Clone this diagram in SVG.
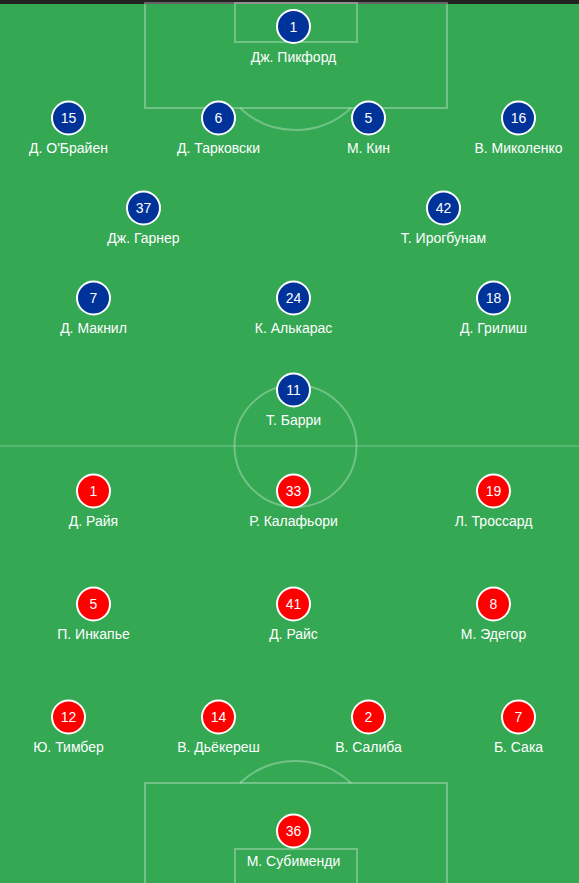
<svg xmlns="http://www.w3.org/2000/svg" width="579" height="883" viewBox="0 0 579 883">
<style>
.ln{fill:none;stroke:rgba(255,255,255,0.3);stroke-width:2}
.hl{fill:none;stroke:rgba(255,255,255,0.35);stroke-width:1}
.b{fill:#003399;stroke:#fff;stroke-width:2}
.r{fill:#ff0000;stroke:#fff;stroke-width:2}
.n{fill:#fff;font-family:"Liberation Sans",Arial,sans-serif;font-size:14px;text-anchor:middle}
.t{fill:#fff;font-family:"Liberation Sans",Arial,sans-serif;font-size:14px;text-anchor:middle}
</style>
<rect x="0" y="0" width="579" height="883" fill="#34a853"/>
<rect x="0" y="0" width="579" height="4" fill="#222"/>
<g id="pitch">
<rect class="ln" x="145" y="3" width="302" height="105"/>
<rect class="ln" x="235" y="3" width="122" height="39"/>
<path class="ln" d="M240,108 A81,81 0 0 0 351,108"/>
<line class="hl" x1="0" y1="446" x2="579" y2="446"/>
<circle class="ln" cx="295.5" cy="446" r="61"/>
<rect class="ln" x="145" y="783" width="302" height="105"/>
<rect class="ln" x="235" y="849" width="122" height="40"/>
<path class="ln" d="M240,783 A81,81 0 0 1 351,783"/>
</g>
<g id="connectors"></g>
<g id="h1"><circle class="b" cx="293.5" cy="26.5" r="16.5"/><text class="n" x="293.5" y="31.5">1</text><text class="t" x="293.5" y="62">Дж. Пикфорд</text></g>
<g id="h15"><circle class="b" cx="68.5" cy="118" r="16.5"/><text class="n" x="68.5" y="123">15</text><text class="t" x="68.5" y="153">Д. О'Брайен</text></g>
<g id="h6"><circle class="b" cx="218.5" cy="118" r="16.5"/><text class="n" x="218.5" y="123">6</text><text class="t" x="218.5" y="153">Д. Тарковски</text></g>
<g id="h5"><circle class="b" cx="368.5" cy="118" r="16.5"/><text class="n" x="368.5" y="123">5</text><text class="t" x="368.5" y="153">М. Кин</text></g>
<g id="h16"><circle class="b" cx="518.5" cy="118" r="16.5"/><text class="n" x="518.5" y="123">16</text><text class="t" x="518.5" y="153">В. Миколенко</text></g>
<g id="h37"><circle class="b" cx="143.5" cy="208" r="16.5"/><text class="n" x="143.5" y="213">37</text><text class="t" x="143.5" y="243">Дж. Гарнер</text></g>
<g id="h42"><circle class="b" cx="443.5" cy="208" r="16.5"/><text class="n" x="443.5" y="213">42</text><text class="t" x="443.5" y="243">Т. Ирогбунам</text></g>
<g id="h7"><circle class="b" cx="93.5" cy="298" r="16.5"/><text class="n" x="93.5" y="303">7</text><text class="t" x="93.5" y="333">Д. Макнил</text></g>
<g id="h24"><circle class="b" cx="293.5" cy="298" r="16.5"/><text class="n" x="293.5" y="303">24</text><text class="t" x="293.5" y="333">К. Алькарас</text></g>
<g id="h18"><circle class="b" cx="493.5" cy="298" r="16.5"/><text class="n" x="493.5" y="303">18</text><text class="t" x="493.5" y="333">Д. Грилиш</text></g>
<g id="h11"><circle class="b" cx="293.5" cy="390" r="16.5"/><text class="n" x="293.5" y="395">11</text><text class="t" x="293.5" y="425">Т. Барри</text></g>
<g id="a1"><circle class="r" cx="93.5" cy="491" r="16.5"/><text class="n" x="93.5" y="496">1</text><text class="t" x="93.5" y="526">Д. Райя</text></g>
<g id="a33"><circle class="r" cx="293.5" cy="491" r="16.5"/><text class="n" x="293.5" y="496">33</text><text class="t" x="293.5" y="526">Р. Калафьори</text></g>
<g id="a19"><circle class="r" cx="493.5" cy="491" r="16.5"/><text class="n" x="493.5" y="496">19</text><text class="t" x="493.5" y="526">Л. Троссард</text></g>
<g id="a5"><circle class="r" cx="93.5" cy="604" r="16.5"/><text class="n" x="93.5" y="609">5</text><text class="t" x="93.5" y="639">П. Инкапье</text></g>
<g id="a41"><circle class="r" cx="293.5" cy="604" r="16.5"/><text class="n" x="293.5" y="609">41</text><text class="t" x="293.5" y="639">Д. Райс</text></g>
<g id="a8"><circle class="r" cx="493.5" cy="604" r="16.5"/><text class="n" x="493.5" y="609">8</text><text class="t" x="493.5" y="639">М. Эдегор</text></g>
<g id="a12"><circle class="r" cx="68.5" cy="717" r="16.5"/><text class="n" x="68.5" y="722">12</text><text class="t" x="68.5" y="752">Ю. Тимбер</text></g>
<g id="a14"><circle class="r" cx="218.5" cy="717" r="16.5"/><text class="n" x="218.5" y="722">14</text><text class="t" x="218.5" y="752">В. Дьёкереш</text></g>
<g id="a2"><circle class="r" cx="368.5" cy="717" r="16.5"/><text class="n" x="368.5" y="722">2</text><text class="t" x="368.5" y="752">В. Салиба</text></g>
<g id="a7"><circle class="r" cx="518.5" cy="717" r="16.5"/><text class="n" x="518.5" y="722">7</text><text class="t" x="518.5" y="752">Б. Сака</text></g>
<g id="a36"><circle class="r" cx="293.5" cy="831" r="16.5"/><text class="n" x="293.5" y="836">36</text><text class="t" x="293.5" y="866">М. Субименди</text></g>
</svg>
